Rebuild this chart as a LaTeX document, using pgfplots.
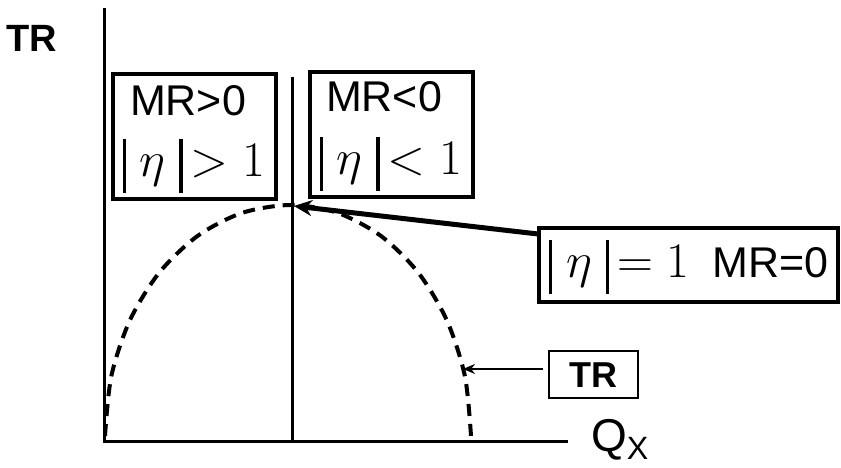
\documentclass[border=0pt]{standalone}
\usepackage{pgfplots}
\pgfplotsset{compat=1.18}
\usepackage[no-math]{fontspec}
\setmainfont{Liberation Sans}
\usetikzlibrary{arrows.meta}
\newcommand{\vb}{\rule[-8pt]{1.6pt}{27pt}}
\begin{document}
\begin{tikzpicture}
\begin{axis}[
  width=420.5pt, height=233pt, scale only axis,
  xmin=0, xmax=841, ymin=0, ymax=466,
  hide axis, clip=false,
]
\path (axis cs:0,0) rectangle (axis cs:841,466);
% axes
\addplot[black, line width=1.5pt] coordinates {(104,458) (104,23)};
\addplot[black, line width=1.5pt] coordinates {(103,24) (568,24)};
\addplot[black, line width=1.5pt] coordinates {(292,24) (292,389)};
% TR curve
\addplot[black, line width=2pt, dash pattern=on 6pt off 4pt, smooth] coordinates {
 (105,30) (111.3,89.8) (129.8,145.5) (159.2,193.3) (197.5,230) (242.1,253.1) (291,261)
 (337.6,253.1) (381,230) (418.3,193.3) (446.9,145.5) (464.9,89.8) (471,30)};
% boxes
\draw[line width=2pt] (axis cs:113,267) rectangle (axis cs:276,392);
\draw[line width=2pt] (axis cs:310,269) rectangle (axis cs:473,394);
\draw[line width=2pt] (axis cs:539,164) rectangle (axis cs:838,238);
\draw[line width=1pt] (axis cs:549,68) rectangle (axis cs:638,115);
% arrows
\draw[line width=2.5pt, -{Stealth[length=9pt,width=8pt]}] (axis cs:538,232) -- (axis cs:294,260);
\draw[line width=0.9pt, -{Stealth[length=6pt,width=5pt]}] (axis cs:543,97) -- (axis cs:463,97);
% texts
\node[font=\fontsize{19}{22}\selectfont\bfseries] at (axis cs:32,428) {TR};
\node[font=\fontsize{21.5}{24}\selectfont] at (axis cs:188,365) {MR>0};
\node[font=\fontsize{21.5}{24}\selectfont] at (axis cs:384,369) {MR<0};
\node[font=\fontsize{23}{26}\selectfont] at (axis cs:194,300) {\vb$\;\eta\;$\vb$\,>1$};
\node[font=\fontsize{23}{26}\selectfont] at (axis cs:391,302) {\vb$\;\eta\;$\vb$\,<1$};
\node[font=\fontsize{23}{26}\selectfont] at (axis cs:689,199) {\vb$\;\eta\;$\vb$\,=1$\enspace\fontsize{21.5}{24}\selectfont MR=0};
\node[font=\fontsize{18}{20}\selectfont\bfseries] at (axis cs:593,91) {TR};
\node[font=\fontsize{23}{26}\selectfont, anchor=west] at (axis cs:584,26) {Q\textsubscript{X}};
\end{axis}
\end{tikzpicture}
\end{document}
